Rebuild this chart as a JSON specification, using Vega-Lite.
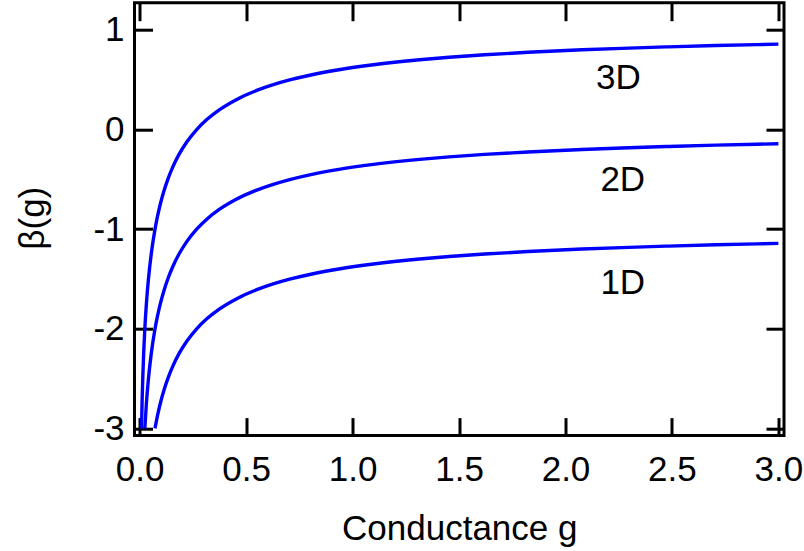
{
  "$schema": "https://vega.github.io/schema/vega-lite/v6.json",
  "width": 649.5,
  "height": 432.9,
  "autosize": {"type": "none"},
  "padding": {"left": 134.5, "top": 2.7, "right": 20, "bottom": 115.4},
  "background": "white",
  "datasets": {
    "curves": [
      {"curve": "3D", "g": 0.00858, "beta": -3.0},
      {"curve": "3D", "g": 0.01108, "beta": -2.75},
      {"curve": "3D", "g": 0.01432, "beta": -2.5},
      {"curve": "3D", "g": 0.01856, "beta": -2.25},
      {"curve": "3D", "g": 0.0241, "beta": -2.0},
      {"curve": "3D", "g": 0.03141, "beta": -1.75},
      {"curve": "3D", "g": 0.04114, "beta": -1.5},
      {"curve": "3D", "g": 0.0542, "beta": -1.25},
      {"curve": "3D", "g": 0.072, "beta": -1.0},
      {"curve": "3D", "g": 0.0833, "beta": -0.875},
      {"curve": "3D", "g": 0.0967, "beta": -0.75},
      {"curve": "3D", "g": 0.1128, "beta": -0.625},
      {"curve": "3D", "g": 0.1321, "beta": -0.5},
      {"curve": "3D", "g": 0.1557, "beta": -0.375},
      {"curve": "3D", "g": 0.1847, "beta": -0.25},
      {"curve": "3D", "g": 0.2211, "beta": -0.125},
      {"curve": "3D", "g": 0.2677, "beta": 0.0},
      {"curve": "3D", "g": 0.3152, "beta": 0.1},
      {"curve": "3D", "g": 0.3754, "beta": 0.2},
      {"curve": "3D", "g": 0.4537, "beta": 0.3},
      {"curve": "3D", "g": 0.5595, "beta": 0.4},
      {"curve": "3D", "g": 0.6273, "beta": 0.45},
      {"curve": "3D", "g": 0.7091, "beta": 0.5},
      {"curve": "3D", "g": 0.8094, "beta": 0.55},
      {"curve": "3D", "g": 0.9353, "beta": 0.6},
      {"curve": "3D", "g": 1.0976, "beta": 0.65},
      {"curve": "3D", "g": 1.3148, "beta": 0.7},
      {"curve": "3D", "g": 1.4534, "beta": 0.725},
      {"curve": "3D", "g": 1.6197, "beta": 0.75},
      {"curve": "3D", "g": 1.8232, "beta": 0.775},
      {"curve": "3D", "g": 2.0777, "beta": 0.8},
      {"curve": "3D", "g": 2.2638, "beta": 0.815},
      {"curve": "3D", "g": 2.4825, "beta": 0.83},
      {"curve": "3D", "g": 2.7061, "beta": 0.843},
      {"curve": "3D", "g": 3.0, "beta": 0.857},

      {"curve": "2D", "g": 0.0241, "beta": -3.0},
      {"curve": "2D", "g": 0.03141, "beta": -2.75},
      {"curve": "2D", "g": 0.04114, "beta": -2.5},
      {"curve": "2D", "g": 0.0542, "beta": -2.25},
      {"curve": "2D", "g": 0.072, "beta": -2.0},
      {"curve": "2D", "g": 0.0833, "beta": -1.875},
      {"curve": "2D", "g": 0.0967, "beta": -1.75},
      {"curve": "2D", "g": 0.1128, "beta": -1.625},
      {"curve": "2D", "g": 0.1321, "beta": -1.5},
      {"curve": "2D", "g": 0.1557, "beta": -1.375},
      {"curve": "2D", "g": 0.1847, "beta": -1.25},
      {"curve": "2D", "g": 0.2211, "beta": -1.125},
      {"curve": "2D", "g": 0.2677, "beta": -1.0},
      {"curve": "2D", "g": 0.3152, "beta": -0.9},
      {"curve": "2D", "g": 0.3754, "beta": -0.8},
      {"curve": "2D", "g": 0.4537, "beta": -0.7},
      {"curve": "2D", "g": 0.5595, "beta": -0.6},
      {"curve": "2D", "g": 0.6273, "beta": -0.55},
      {"curve": "2D", "g": 0.7091, "beta": -0.5},
      {"curve": "2D", "g": 0.8094, "beta": -0.45},
      {"curve": "2D", "g": 0.9353, "beta": -0.4},
      {"curve": "2D", "g": 1.0976, "beta": -0.35},
      {"curve": "2D", "g": 1.3148, "beta": -0.3},
      {"curve": "2D", "g": 1.4534, "beta": -0.275},
      {"curve": "2D", "g": 1.6197, "beta": -0.25},
      {"curve": "2D", "g": 1.8232, "beta": -0.225},
      {"curve": "2D", "g": 2.0777, "beta": -0.2},
      {"curve": "2D", "g": 2.2638, "beta": -0.185},
      {"curve": "2D", "g": 2.4825, "beta": -0.17},
      {"curve": "2D", "g": 2.7061, "beta": -0.157},
      {"curve": "2D", "g": 3.0, "beta": -0.143},

      {"curve": "1D", "g": 0.072, "beta": -3.0},
      {"curve": "1D", "g": 0.0833, "beta": -2.875},
      {"curve": "1D", "g": 0.0967, "beta": -2.75},
      {"curve": "1D", "g": 0.1128, "beta": -2.625},
      {"curve": "1D", "g": 0.1321, "beta": -2.5},
      {"curve": "1D", "g": 0.1557, "beta": -2.375},
      {"curve": "1D", "g": 0.1847, "beta": -2.25},
      {"curve": "1D", "g": 0.2211, "beta": -2.125},
      {"curve": "1D", "g": 0.2677, "beta": -2.0},
      {"curve": "1D", "g": 0.3152, "beta": -1.9},
      {"curve": "1D", "g": 0.3754, "beta": -1.8},
      {"curve": "1D", "g": 0.4537, "beta": -1.7},
      {"curve": "1D", "g": 0.5595, "beta": -1.6},
      {"curve": "1D", "g": 0.6273, "beta": -1.55},
      {"curve": "1D", "g": 0.7091, "beta": -1.5},
      {"curve": "1D", "g": 0.8094, "beta": -1.45},
      {"curve": "1D", "g": 0.9353, "beta": -1.4},
      {"curve": "1D", "g": 1.0976, "beta": -1.35},
      {"curve": "1D", "g": 1.3148, "beta": -1.3},
      {"curve": "1D", "g": 1.4534, "beta": -1.275},
      {"curve": "1D", "g": 1.6197, "beta": -1.25},
      {"curve": "1D", "g": 1.8232, "beta": -1.225},
      {"curve": "1D", "g": 2.0777, "beta": -1.2},
      {"curve": "1D", "g": 2.2638, "beta": -1.185},
      {"curve": "1D", "g": 2.4825, "beta": -1.17},
      {"curve": "1D", "g": 2.7061, "beta": -1.157},
      {"curve": "1D", "g": 3.0, "beta": -1.143}
    ],
    "labels": [
      {"label": "3D", "g": 2.248, "beta": 0.515},
      {"label": "2D", "g": 2.269, "beta": -0.506},
      {"label": "1D", "g": 2.269, "beta": -1.543}
    ]
  },
  "layer": [
    {
      "data": {"name": "curves"},
      "mark": {"type": "line", "color": "#0000ff", "strokeWidth": 3.4, "interpolate": "monotone", "clip": true},
      "encoding": {
        "x": {
          "field": "g", "type": "quantitative",
          "scale": {"domain": [-0.0244, 3.0263], "nice": false, "zero": false},
          "axis": {
            "orient": "bottom",
            "values": [0, 0.5, 1, 1.5, 2, 2.5, 3],
            "format": ".1f",
            "labelBaseline": "alphabetic",
            "labelPadding": 62.5,
            "title": "Conductance g",
            "titleBaseline": "alphabetic",
            "titleY": 103.5
          }
        },
        "y": {
          "field": "beta", "type": "quantitative",
          "scale": {"domain": [-3.0723, 1.273], "nice": false, "zero": false},
          "axis": {
            "orient": "left",
            "values": [-3, -2, -1, 0, 1],
            "labelExpr": "datum.value < 0 ? '-' + abs(datum.value) : '' + datum.value",
            "labelAlign": "right",
            "labelBaseline": "middle",
            "labelPadding": 28.5,
            "title": "β(g)",
            "titleAngle": -90,
            "titleAlign": "center",
            "titleBaseline": "middle",
            "titleX": -102,
            "titleY": 215
          }
        },
        "detail": {"field": "curve"}
      }
    },
    {
      "data": {"name": "labels"},
      "mark": {"type": "text", "font": "Liberation Sans", "fontSize": 35, "color": "black", "align": "center", "baseline": "middle"},
      "encoding": {
        "x": {
          "field": "g", "type": "quantitative",
          "axis": {"orient": "top", "values": [0, 0.5, 1, 1.5, 2, 2.5, 3], "labels": false, "title": null}
        },
        "y": {
          "field": "beta", "type": "quantitative",
          "axis": {"orient": "right", "values": [-3, -2, -1, 0, 1], "labels": false, "title": null}
        },
        "text": {"field": "label"}
      }
    }
  ],
  "resolve": {"axis": {"x": "independent", "y": "independent"}},
  "config": {
    "view": {"stroke": "black", "strokeWidth": 3, "fill": "white"},
    "axis": {
      "domain": false,
      "grid": false,
      "ticks": true,
      "tickColor": "black",
      "tickWidth": 3,
      "tickSize": -18,
      "labelFont": "Liberation Sans",
      "labelFontSize": 35,
      "labelColor": "black",
      "labelOverlap": false,
      "labelFlush": false,
      "titleFont": "Liberation Sans",
      "titleFontSize": 35,
      "titleFontWeight": "normal",
      "titleColor": "black"
    }
  }
}
